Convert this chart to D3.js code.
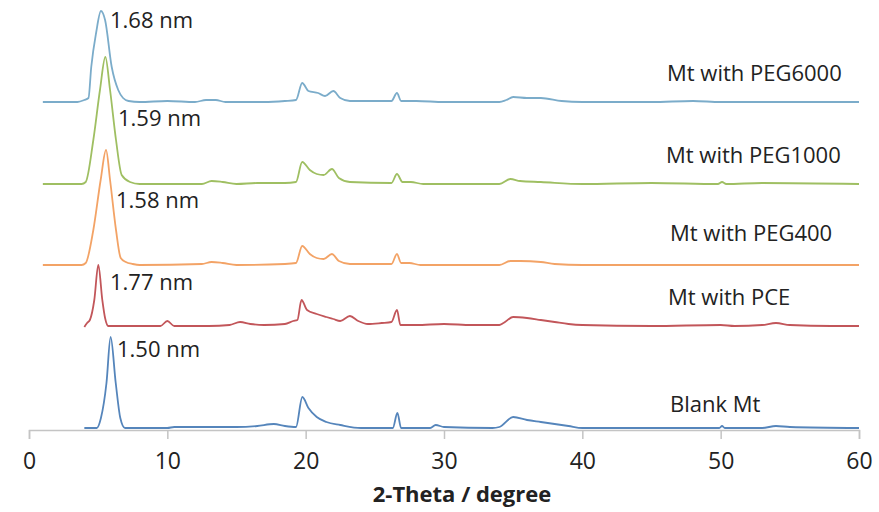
<!DOCTYPE html>
<html>
<head>
<meta charset="utf-8">
<script src="https://cdn.jsdelivr.net/npm/d3@7"></script>
<style>
  body { margin: 0; background: #fff; }
  text { font-family: "Open Sans", sans-serif; fill: #222; }
</style>
</head>
<body>
<div id="chart"></div>
<script>
// tick labels along 2-theta
var xTicks = [0, 10, 20, 30, 40, 50, 60];

// [2theta, intensity], intensity relative to each trace's own baseline
var peg6000 = [[1,0],[3.5,0],[4.0,2],[4.3,4],[4.5,35],[4.85,69],[5.2,91],[5.5,82],[5.98,35],[6.45,12],[6.8,4],[7.2,1],[8,0],[10,1],[12,0],[12.8,2],[13.5,2],[14.2,0],[17,0],[18.5,1],[19.3,2],[19.75,19],[20.2,11],[20.9,9],[21.4,6],[22.0,11],[22.5,4],[23.2,1],[26.2,1],[26.6,9],[26.9,1],[28,1],[30,0],[34.0,0],[34.5,2],[35,5],[36,4],[37,4],[38.5,1],[40,0],[45,0],[48,1],[50,0],[55,0],[60,0]];
var peg1000 = [[1,0],[3.8,0],[4.1,2],[4.65,44],[5.13,94],[5.52,127],[5.86,94],[6.29,44],[6.7,9],[7.3,2],[8,0],[12.5,0],[13.2,3],[14,2],[15,0],[16.5,1],[18.5,1],[19.3,2],[19.75,22],[20.3,14],[20.8,10],[21.3,9],[21.9,15],[22.4,6],[23.2,2],[26.2,1],[26.6,10],[27,2],[27.6,2],[28.5,0],[34,0],[34.8,5],[35.5,3],[37,2],[40,0],[45,1],[49.8,0],[50.1,2],[50.4,0],[53,1],[60,0]];
var peg400 = [[1,0],[3.8,0],[4.1,2],[4.65,35],[5.18,85],[5.57,115],[5.86,85],[6.29,35],[6.63,7],[7.0,3],[7.5,1],[8,0],[12.5,1],[13.2,3],[14,2],[15,0],[18.5,1],[19.3,2],[19.75,19],[20.3,11],[20.8,7],[21.3,6],[21.9,11],[22.4,4],[23.2,1],[26.2,1],[26.6,11],[26.9,2],[27.5,2],[28.3,0],[34,0],[34.8,4],[35.5,4],[37,3],[38,1],[40,0],[60,0]];
var pce = [[4.0,-1],[4.2,3],[4.4,6],[4.72,26],[5.01,61],[5.3,26],[5.5,8],[5.73,0],[7,0],[9.5,0],[10.0,5],[10.5,0],[13,0],[14.5,1],[15.26,4],[16,2],[17,1],[18.5,2],[19.1,5],[19.4,6],[19.7,26],[20.1,16],[20.8,12],[21.5,9],[22.0,7],[22.5,5],[23.2,10],[23.8,5],[24.5,2],[25.5,3],[26.2,4],[26.6,16],[26.85,1],[28,1],[30,2],[32,1],[34,1],[34.3,3],[35,9],[36,8],[37,6],[38,4],[39,2],[40,1],[45,0],[50,1],[51,0],[53,1],[54,3],[55,1],[58,0],[60,0]];
var blank = [[4.0,0],[4.9,0],[5.2,10],[5.6,45],[5.9,91],[6.27,45],[6.6,10],[6.94,0],[10,0],[10.5,1],[15,1],[16.5,2],[17.7,4],[18.5,2],[19.3,1],[19.76,31],[20.2,20],[20.8,11],[21.5,6],[22.5,3],[24,0],[26.3,0],[26.63,15],[26.9,0],[29,0],[29.4,3],[30,1],[33.5,0],[34,1],[35,11],[36,8],[37,6],[38,4],[39,2],[40,0],[49.9,0],[50.1,2],[50.3,0],[53,0],[54,2],[55,1],[60,0]];

var names = ["Mt with PEG6000", "Mt with PEG1000", "Mt with PEG400", "Mt with PCE", "Blank Mt"];
var spacings = ["1.68 nm", "1.59 nm", "1.58 nm", "1.77 nm", "1.50 nm"];
var offsets = [328, 246, 165, 104, 2];   // vertical stacking of each trace
var colors = ["#7bacca", "#9fbf62", "#f3a366", "#c2565a", "#5585bb"];

var series = [peg6000, peg1000, peg400, pce, blank];

var width = 879, height = 512;
var svg = d3.select("#chart").append("svg")
  .attr("width", width)
  .attr("height", height);

var x = d3.scaleLinear().domain([0, 60]).range([29, 859]);
var y = d3.scaleLinear().domain([0, 420]).range([430, 10]);

// axis
var axis = d3.axisBottom(x).tickValues(xTicks).tickSize(9).tickPadding(14).tickFormat(d3.format("d"));
var gx = svg.append("g").attr("transform", "translate(0,430)").call(axis);
gx.select(".domain").attr("stroke", "#c4c4c4").attr("stroke-width", 1.5);
gx.selectAll(".tick line").attr("stroke", "#c4c4c4").attr("stroke-width", 1.5);
gx.selectAll(".tick text")
  .style("font-family", "'Open Sans', sans-serif")
  .style("font-size", "23px")
  .attr("fill", "#222");

svg.append("text")
  .attr("x", 462).attr("y", 502)
  .attr("text-anchor", "middle")
  .style("font-size", "22px")
  .style("font-weight", "bold")
  .text("2-Theta / degree");

var line = d3.line().curve(d3.curveMonotoneX);

series.forEach(function(data, i){
  svg.append("path")
    .datum(data)
    .attr("fill", "none")
    .attr("stroke", colors[i])
    .attr("stroke-width", 1.8)
    .attr("stroke-linejoin", "round")
    .attr("d", line.x(function(d){ return x(d[0]); })
                   .y(function(d){ return y(d[1] + offsets[i]); }));
});

// peak annotations and trace names
var peakLabelPos = [[110, 28], [118, 126], [116, 208], [110, 290], [117, 357]];
var nameLabelPos = [[667, 81], [666, 163], [670, 241], [668, 305], [670, 412]];

svg.selectAll("text.peak")
  .data(spacings)
  .enter()
  .append("text")
  .attr("class", "peak")
  .attr("x", function(d, i){ return peakLabelPos[i][0]; })
  .attr("y", function(d, i){ return peakLabelPos[i][1]; })
  .style("font-size", "22px")
  .text(function(d){ return d; });

svg.selectAll("text.name")
  .data(names)
  .enter()
  .append("text")
  .attr("class", "name")
  .attr("x", function(d, i){ return nameLabelPos[i][0]; })
  .attr("y", function(d, i){ return nameLabelPos[i][1]; })
  .style("font-size", "22px")
  .text(function(d){ return d; });
</script>
</body>
</html>
